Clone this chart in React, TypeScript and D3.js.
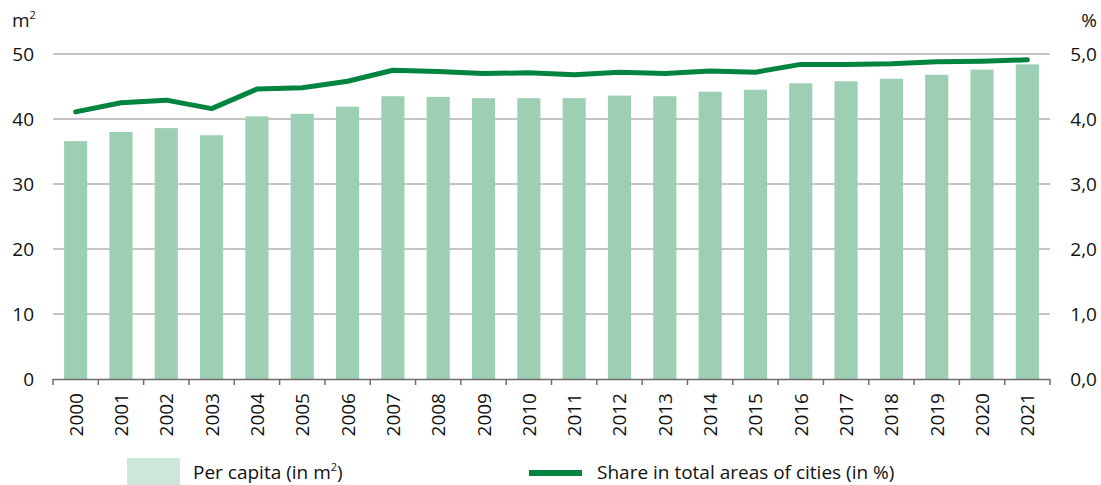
import React, {useEffect, useRef} from 'react';
import * as d3 from 'd3';

const years = ['2000', '2001', '2002', '2003', '2004', '2005', '2006', '2007', '2008', '2009', '2010',
    '2011', '2012', '2013', '2014', '2015', '2016', '2017', '2018', '2019', '2020', '2021'];
const perCapita = [36.6, 38.0, 38.6, 37.5, 40.4, 40.8, 41.9, 43.5, 43.4, 43.2, 43.2,
    43.2, 43.6, 43.5, 44.2, 44.5, 45.5, 45.8, 46.2, 46.8, 47.6, 48.4];
const shareOfCities = [4.11, 4.25, 4.29, 4.16, 4.46, 4.48, 4.58, 4.75, 4.73, 4.70, 4.71,
    4.68, 4.72, 4.70, 4.74, 4.72, 4.84, 4.84, 4.85, 4.88, 4.89, 4.91];
const leftTicks = [0, 10, 20, 30, 40, 50];
const rightTicks = [0, 1, 2, 3, 4, 5];

const FONT = '"Open Sans", "Noto Sans", sans-serif';
const FS = 19;
const BAR = '#9ccfb4';
const LINE = '#00843f';
const TXT = '#111';

const App = () => {
    const ref = useRef<SVGSVGElement>(null);

    useEffect(() => {
        drawChart();
    });

    function drawChart() {
        const svg = d3.select(ref.current);
        svg.selectAll('*').remove();

        const left = 53, right = 1050, top = 54, bottom = 379;

        const x = d3.scaleBand().domain(years).range([left, right]).paddingInner(0.49).paddingOuter(0.245);
        const y = d3.scaleLinear().domain([0, 50]).range([bottom, top]);
        const y2 = d3.scaleLinear().domain([0, 5]).range([bottom, top]);

        // gridlines
        svg.append('g')
            .selectAll('line')
            .data(leftTicks.filter(d => d > 0))
            .enter()
            .append('line')
            .attr('x1', left).attr('x2', right)
            .attr('y1', d => y(d)).attr('y2', d => y(d))
            .attr('stroke', '#8a8a8a').attr('stroke-width', 1);

        // left labels
        svg.append('g')
            .selectAll('text')
            .data(leftTicks)
            .enter()
            .append('text')
            .attr('x', 34).attr('y', d => y(d) + 7)
            .attr('text-anchor', 'end')
            .attr('font-family', FONT).attr('font-size', FS).attr('fill', TXT)
            .text(d => d);

        // right labels
        svg.append('g')
            .selectAll('text')
            .data(rightTicks)
            .enter()
            .append('text')
            .attr('x', 1097).attr('y', d => y2(d) + 7)
            .attr('text-anchor', 'end')
            .attr('font-family', FONT).attr('font-size', FS).attr('fill', TXT)
            .text(d => d.toFixed(1).replace('.', ','));

        // units
        const m2 = svg.append('text')
            .attr('x', 12).attr('y', 27)
            .attr('font-family', FONT).attr('font-size', FS).attr('fill', TXT);
        m2.append('tspan').text('m');
        m2.append('tspan').attr('dy', -8).attr('font-size', 11).text('2');
        svg.append('text')
            .attr('x', 1097).attr('y', 27)
            .attr('text-anchor', 'end')
            .attr('font-family', FONT).attr('font-size', FS).attr('fill', TXT)
            .text('%');

        // bars
        svg.append('g')
            .selectAll('rect')
            .data(perCapita)
            .enter()
            .append('rect')
            .attr('x', (d, i) => x(years[i])!)
            .attr('width', x.bandwidth())
            .attr('y', d => y(d))
            .attr('height', d => bottom - y(d))
            .attr('fill', BAR);

        // baseline and ticks
        svg.append('line')
            .attr('x1', left).attr('x2', right)
            .attr('y1', bottom + 0.5).attr('y2', bottom + 0.5)
            .attr('stroke', '#6d6d6d').attr('stroke-width', 1.5);
        const step = x.step();
        svg.append('g')
            .selectAll('line')
            .data(d3.range(years.length + 1))
            .enter()
            .append('line')
            .attr('x1', i => left + i * step).attr('x2', i => left + i * step)
            .attr('y1', bottom).attr('y2', bottom + 6)
            .attr('stroke', '#6d6d6d').attr('stroke-width', 1.5);

        // year labels
        svg.append('g')
            .selectAll('text')
            .data(years)
            .enter()
            .append('text')
            .attr('transform', d => 'translate(' + (x(d)! + x.bandwidth() / 2 + 7) + ',' + 393 + ') rotate(-90)')
            .attr('text-anchor', 'end')
            .attr('font-family', FONT).attr('font-size', FS).attr('fill', TXT)
            .text(d => d);

        // line
        svg.append('path')
            .datum(shareOfCities)
            .attr('fill', 'none')
            .attr('stroke', LINE)
            .attr('stroke-width', 5)
            .attr('stroke-linecap', 'round')
            .attr('stroke-linejoin', 'round')
            .attr('d', d3.line<number>()
                .x((d, i) => x(years[i])! + x.bandwidth() / 2)
                .y(d => y2(d)));

        // legend
        svg.append('rect')
            .attr('x', 127).attr('y', 458).attr('width', 53).attr('height', 27)
            .attr('fill', '#cde8da');
        const lt = svg.append('text')
            .attr('x', 193).attr('y', 479)
            .attr('font-family', FONT).attr('font-size', FS).attr('fill', TXT);
        lt.append('tspan').text('Per capita (in m');
        lt.append('tspan').attr('dy', -8).attr('font-size', 11).text('2');
        lt.append('tspan').attr('dy', 8).text(')');

        svg.append('line')
            .attr('x1', 529).attr('x2', 582)
            .attr('y1', 473).attr('y2', 473)
            .attr('stroke', LINE).attr('stroke-width', 6);
        svg.append('text')
            .attr('x', 597).attr('y', 479)
            .attr('font-family', FONT).attr('font-size', FS).attr('fill', TXT)
            .text('Share in total areas of cities (in %)');
    }

    return (
        <svg ref={ref} width={1101} height={485}
             style={{position: 'absolute', left: 0, top: 0, background: '#fff'}}/>
    );
};

export default App;
